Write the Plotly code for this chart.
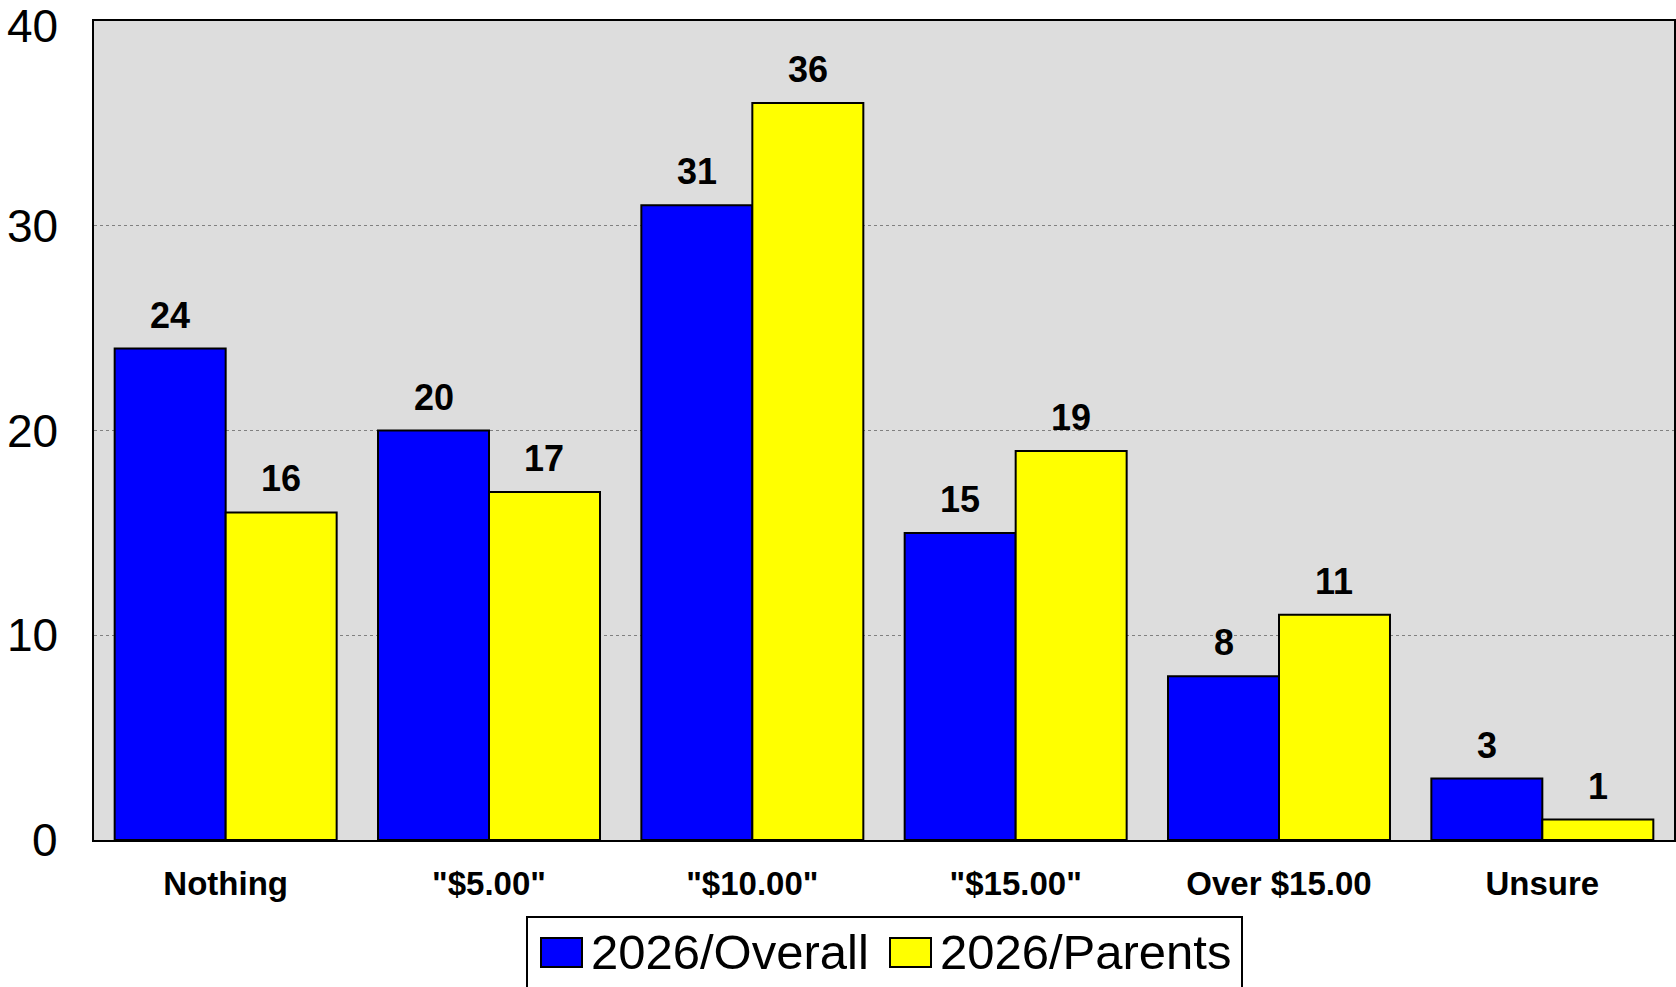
import plotly.graph_objects as go

categories = ["Nothing", "\"$5.00\"", "\"$10.00\"", "\"$15.00\"", "Over $15.00", "Unsure"]
overall = [24, 20, 31, 15, 8, 3]
parents = [16, 17, 36, 19, 11, 1]
series_names = ["2026/Overall", "2026/Parents"]
series_colors = ["#0000FF", "#FFFF00"]
y_ticks = [0, 10, 20, 30, 40]

FONT = "Arial, Liberation Sans, sans-serif"

# plot-area geometry in pixels (page is 1676 x 987)
PL, PR, PT, PB = 94, 1674, 21, 840
W, H = PR - PL, PB - PT


def px_x(p):
    return (p - PL) / W


def px_y(p):
    return (PB - p) / H


fig = go.Figure()
for name, vals, col in zip(series_names, [overall, parents], series_colors):
    fig.add_trace(go.Bar(
        x=categories, y=vals, name=name,
        marker=dict(color=col, line=dict(color="black", width=2)),
        showlegend=False,
    ))

# value labels above each bar
bar_px = W / len(categories) * (1 - 0.157) / 2
annotations = []
for vals, shift in [(overall, -bar_px / 2), (parents, bar_px / 2)]:
    for c, v in zip(categories, vals):
        annotations.append(dict(
            x=c, y=v, xref="x", yref="y", text=str(v), showarrow=False,
            xshift=shift, yshift=11, yanchor="bottom",
            font=dict(family=FONT, size=36, color="black", weight="bold"),
        ))

# y-axis value labels, placed on the axis scale; the top one is nudged
# down so it stays inside the page
top_tick = max(y_ticks)
for t in y_ticks:
    annotations.append(dict(
        x=px_x(60), y=t, xref="paper", yref="y", text=str(t),
        showarrow=False, xanchor="right", yanchor="middle",
        yshift=-5 if t == top_tick else 0,
        font=dict(family=FONT, size=46, color="black"),
    ))

# legend drawn below the plot
shapes = [dict(type="rect", xref="paper", yref="paper",
               x0=px_x(527), x1=px_x(1242), y0=px_y(917), y1=px_y(992),
               line=dict(color="black", width=2), fillcolor="white")]
legend_items = [(541, 589, 0), (890, 938, 1)]
for sq_x, txt_x, i in legend_items:
    shapes.append(dict(type="rect", xref="paper", yref="paper",
                       x0=px_x(sq_x), x1=px_x(sq_x + 41),
                       y0=px_y(938), y1=px_y(967),
                       line=dict(color="black", width=2),
                       fillcolor=series_colors[i]))
    annotations.append(dict(
        x=px_x(txt_x), y=px_y(952), xref="paper", yref="paper",
        text=series_names[i], showarrow=False, xanchor="left", yanchor="middle",
        font=dict(family=FONT, size=49, color="black"),
    ))

fig.update_layout(
    width=1676, height=987,
    margin=dict(l=PL, r=1676 - PR, t=PT, b=987 - PB, pad=0),
    paper_bgcolor="white", plot_bgcolor="#DDDDDD",
    barmode="group", bargap=0.157, bargroupgap=0,
    annotations=annotations, shapes=shapes,
    showlegend=False,
    font=dict(family=FONT, color="black"),
)
fig.update_xaxes(
    showline=True, linecolor="black", linewidth=2, mirror=True,
    showgrid=False, ticks="", automargin=False,
    tickfont=dict(family=FONT, size=33, color="black", weight="bold"),
    ticklabelstandoff=13,
)
fig.update_yaxes(
    range=[0, 40], tickvals=y_ticks, showline=True, linecolor="black",
    linewidth=2, mirror=True, showgrid=True, gridcolor="#808080",
    griddash="dot", gridwidth=1, zeroline=False, ticks="", automargin=False,
    showticklabels=False,
)

fig.write_html("out.html")
